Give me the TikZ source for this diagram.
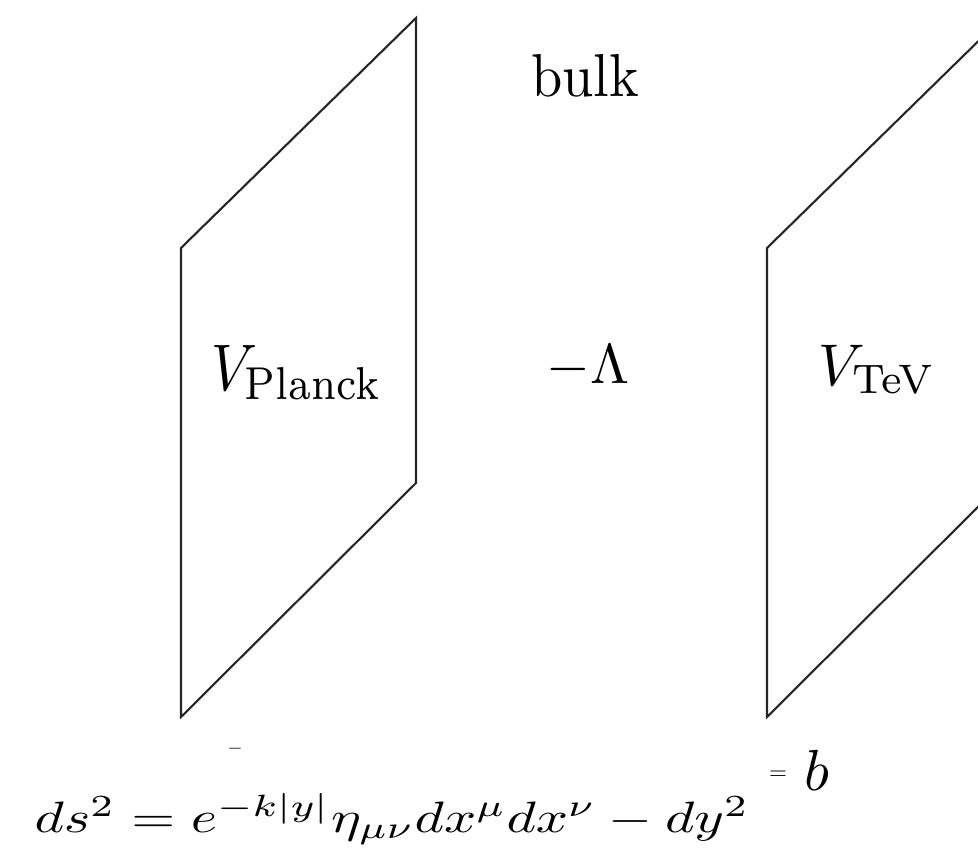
\documentclass[tikz,border=0pt]{standalone}
\usepackage{amsmath,amssymb}
\usepackage{tikz}
\usetikzlibrary{positioning}

\begin{document}
\begin{tikzpicture}[
    x=0.02cm, y=-0.02cm,
    brane/.style={draw=black!85, line width=1.2pt, line join=miter},
    lbl/.style={inner sep=0pt, anchor=base, font=\fontsize{10}{12}\selectfont},
    tiny/.style={inner sep=0pt, anchor=center, font=\fontsize{11}{13}\selectfont}
]
\useasboundingbox (0,0) rectangle (978,855);
\clip (0,0) rectangle (978,855);

% the two branes
\draw[brane] (181,248) -- (416,18) -- (416,483) -- (181,717) -- cycle;
\draw[brane] (767,248) -- (1002,18) -- (1002,483) -- (767,717) -- cycle;

% labels
\node[lbl, xscale=3.2, yscale=3.45] (bulk) at (585,97) {bulk};
\node[lbl, xscale=3.25, yscale=3.75] (planck) at (297,390) {$V_{\text{Planck}}$};
\node[lbl, xscale=3.2, yscale=3.2] (lambda) at (588,383) {$-\Lambda$};
\node[lbl, xscale=3.3, yscale=3.35] (tev) at (877,385) {$V_{\text{TeV}}$};

\node[tiny] (dash) at (235,749) {$-$};
\node[tiny, scale=1.2] (eqb) at (778,775) {$=$};
\node[lbl, scale=3.3, anchor=base west] (b) at (803,790) {$b$};

% metric
\node[lbl, xscale=3.21, yscale=2.5] (metric) at (392,832) {$ds^2 = e^{-k|y|}\eta_{\mu\nu}dx^\mu dx^\nu - dy^2$};

\end{tikzpicture}
\end{document}
